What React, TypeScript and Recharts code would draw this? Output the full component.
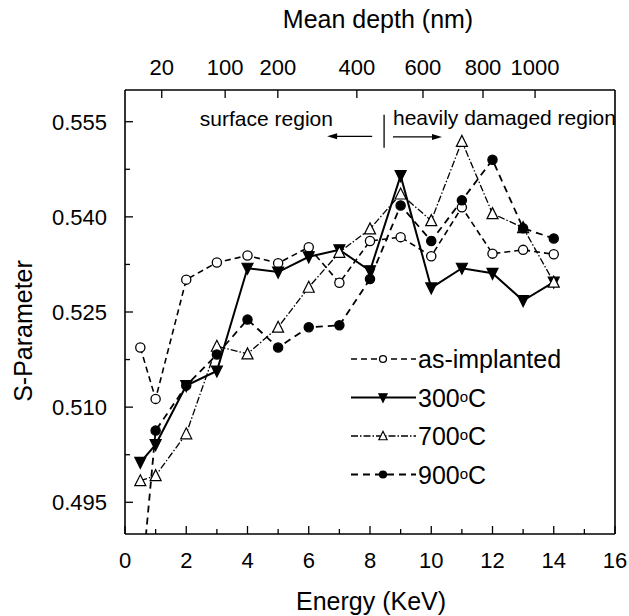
import React from "react";
import {
  LineChart,
  Line,
  XAxis,
  YAxis,
  ReferenceLine,
  ReferenceDot,
  Legend
} from "recharts";

const energy = [0.5, 1, 2, 3, 4, 5, 6, 7, 8, 9, 10, 11, 12, 13, 14];
const asImplanted = [0.5194, 0.5113, 0.5301, 0.5328, 0.5339, 0.5327, 0.5352, 0.5296, 0.5362, 0.5368, 0.5338, 0.5415, 0.5342, 0.5348, 0.5341];
const t300 = [0.5013, 0.5041, 0.5134, 0.5157, 0.5319, 0.5313, 0.5337, 0.5348, 0.5315, 0.5465, 0.5288, 0.5319, 0.5311, 0.5268, 0.5297];
const t700 = [0.4984, 0.4992, 0.5058, 0.5196, 0.5184, 0.5226, 0.5289, 0.5344, 0.5381, 0.5436, 0.5394, 0.5519, 0.5405, 0.5383, 0.5297];
const t900 = [0.4802, 0.5063, 0.5134, 0.5183, 0.5238, 0.5194, 0.5226, 0.5229, 0.5302, 0.5418, 0.5362, 0.5426, 0.549, 0.5382, 0.5366];

const energyTicks = [0, 1, 2, 3, 4, 5, 6, 7, 8, 9, 10, 11, 12, 13, 14, 15, 16];
const sMajor = [0.495, 0.51, 0.525, 0.54, 0.555];
const sMinor = [0.5025, 0.5175, 0.5325, 0.5475];
// top axis: energy at which each mean depth sits
const depthTickEnergy = [1.2, 3.27, 4.99, 7.57, 9.73, 11.69, 13.39];
const depthLabels = ["20", "100", "200", "400", "600", "800", "1000"];

const FONT = "'Liberation Sans', Arial, Helvetica, sans-serif";

const data = energy.map((e, i) => ({
  energy: e,
  asImplanted: asImplanted[i],
  t300: t300[i],
  t700: t700[i],
  t900: t900[i]
}));

type Marker = "openCircle" | "downTri" | "upTri" | "dot";

function markerShape(kind: Marker, cx: number, cy: number, s = 1, key?: string) {
  if (kind === "openCircle" || kind === "dot") {
    return (
      <circle
        key={key}
        cx={cx}
        cy={cy}
        r={4.6 * s}
        fill={kind === "dot" ? "#000" : "#fff"}
        stroke="#000"
        strokeWidth={1.3}
      />
    );
  }
  const w = 5.5 * s;
  const h = 5 * s;
  const pts =
    kind === "downTri"
      ? `${cx - w},${cy - h} ${cx + w},${cy - h} ${cx},${cy + h + 1}`
      : `${cx - w},${cy + h} ${cx + w},${cy + h} ${cx},${cy - h - 1}`;
  return (
    <polygon
      key={key}
      points={pts}
      fill={kind === "downTri" ? "#000" : "#fff"}
      stroke="#000"
      strokeWidth={1.2}
    />
  );
}

const series = [
  { key: "asImplanted", name: "as-implanted", dash: "6 4", width: 1.6, marker: "openCircle" as Marker },
  { key: "t300", name: "300", dash: undefined, width: 2, marker: "downTri" as Marker },
  { key: "t700", name: "700", dash: "7 2 1.5 2", width: 1.3, marker: "upTri" as Marker },
  { key: "t900", name: "900", dash: "7 5", width: 1.8, marker: "dot" as Marker }
];

const BottomTick = (props: any) => {
  const { x, y, payload } = props;
  const v = payload.value;
  const major = v % 2 === 0;
  return (
    <g>
      <line x1={x} y1={y} x2={x} y2={y - (major ? 8 : 5)} stroke="#000" strokeWidth={1.3} />
      {major && (
        <text x={x} y={y + 34} textAnchor="middle" fontSize={22} fontFamily={FONT} fill="#000">
          {v}
        </text>
      )}
    </g>
  );
};

const TopTick = (props: any) => {
  const { x, y, index } = props;
  return (
    <g>
      <line x1={x} y1={y} x2={x} y2={y + 8} stroke="#000" strokeWidth={1.3} />
      <text x={x} y={y - 15} textAnchor="middle" fontSize={22} fontFamily={FONT} fill="#000">
        {depthLabels[index]}
      </text>
    </g>
  );
};

const LeftTick = (props: any) => {
  const { x, y, payload } = props;
  const v = payload.value;
  const major = sMajor.includes(v);
  return (
    <g>
      <line x1={x} y1={y} x2={x + (major ? 8 : 5)} y2={y} stroke="#000" strokeWidth={1.3} />
      {major && (
        <text x={x - 18} y={y} dy="0.36em" textAnchor="end" fontSize={22} fontFamily={FONT} fill="#000">
          {v.toFixed(3)}
        </text>
      )}
    </g>
  );
};

const Arrow = (props: any) => {
  const { x1, y1, x2, y2 } = props;
  const dir = x2 > x1 ? 1 : -1;
  return (
    <g>
      <line x1={x1} y1={y1} x2={x2 - dir * 6} y2={y2} stroke="#000" strokeWidth={1.2} />
      <polygon points={`${x2},${y2} ${x2 - dir * 10},${y2 - 3} ${x2 - dir * 10},${y2 + 3}`} fill="#000" />
    </g>
  );
};

const LegendBox = () => (
  <svg width={280} height={165} style={{ display: "block" }}>
    {series.map((s, i) => {
      const cy = 19 + i * 38.5;
      return (
        <g key={s.key}>
          <line x1={6} y1={cy} x2={71} y2={cy} stroke="#000" strokeWidth={s.width} strokeDasharray={s.dash} />
          {markerShape(s.marker, 38, cy, 0.75)}
          <text x={73} y={cy} dy={9} fontSize={25} fontFamily={FONT} fill="#000">
            {s.key === "asImplanted" ? (
              s.name
            ) : (
              <>
                {s.name}
                <tspan fontSize={15} dy={-5}>o</tspan>
                <tspan dy={5}>C</tspan>
              </>
            )}
          </text>
        </g>
      );
    })}
  </svg>
);

export default function App() {
  return (
    <div style={{ position: "absolute", left: 0, top: 0, background: "#fff" }}>
      <LineChart
        width={629}
        height={616}
        data={data}
        margin={{ top: 89, right: 13, bottom: 81, left: 124 }}
      >
        <XAxis
          xAxisId="bottom"
          dataKey="energy"
          type="number"
          domain={[0, 16]}
          ticks={energyTicks}
          interval={0}
          height={1}
          tickSize={0}
          tickMargin={0}
          tickLine={false}
          tick={<BottomTick />}
          axisLine={{ stroke: "#000", strokeWidth: 1.6 }}
        />
        <XAxis
          xAxisId="top"
          orientation="top"
          dataKey="energy"
          type="number"
          domain={[0, 16]}
          allowDataOverflow
          ticks={depthTickEnergy}
          interval={0}
          height={1}
          tickSize={0}
          tickMargin={0}
          tickLine={false}
          tick={<TopTick />}
          axisLine={{ stroke: "#000", strokeWidth: 1.6 }}
        />
        <YAxis
          yAxisId="left"
          type="number"
          domain={[0.49, 0.56]}
          allowDataOverflow
          ticks={[...sMajor, ...sMinor]}
          interval={0}
          width={1}
          tickSize={0}
          tickMargin={0}
          tickLine={false}
          tick={<LeftTick />}
          axisLine={{ stroke: "#000", strokeWidth: 1.6 }}
        />
        <YAxis
          yAxisId="right"
          orientation="right"
          type="number"
          domain={[0.49, 0.56]}
          allowDataOverflow
          width={1}
          tick={false}
          tickLine={false}
          axisLine={{ stroke: "#000", strokeWidth: 1.6 }}
        />

        <ReferenceLine
          xAxisId="bottom"
          yAxisId="left"
          segment={[{ x: 8.46, y: 0.5561 }, { x: 8.46, y: 0.5509 }]}
          stroke="#000"
          strokeWidth={1.3}
        />
        <ReferenceLine
          xAxisId="bottom"
          yAxisId="left"
          segment={[{ x: 8.07, y: 0.5527 }, { x: 6.6, y: 0.5527 }]}
          shape={<Arrow />}
        />
        <ReferenceLine
          xAxisId="bottom"
          yAxisId="left"
          segment={[{ x: 8.75, y: 0.5526 }, { x: 10.35, y: 0.5526 }]}
          shape={<Arrow />}
        />
        <ReferenceDot
          xAxisId="bottom"
          yAxisId="left"
          x={6.79}
          y={0.5543}
          shape={(p: any) => (
            <text x={p.cx} y={p.cy} textAnchor="end" fontSize={21} fontFamily={FONT} fill="#000">
              surface region
            </text>
          )}
        />
        <ReferenceDot
          xAxisId="bottom"
          yAxisId="left"
          x={8.75}
          y={0.5545}
          shape={(p: any) => (
            <text x={p.cx} y={p.cy} textAnchor="start" fontSize={21} fontFamily={FONT} fill="#000">
              heavily damaged region
            </text>
          )}
        />

        {series.map((s) => (
          <Line
            key={s.key}
            xAxisId="bottom"
            yAxisId="left"
            dataKey={s.key}
            name={s.name}
            stroke="#000"
            strokeWidth={s.width}
            strokeDasharray={s.dash}
            isAnimationActive={false}
            dot={(p: any) => markerShape(s.marker, p.cx, p.cy, 1, `${s.key}-${p.index}`)}
            activeDot={false}
          />
        ))}

        <Legend
          layout="horizontal"
          verticalAlign="middle"
          align="center"
          wrapperStyle={{ left: 345, top: 340, width: 280, height: 165 }}
          content={() => <LegendBox />}
        />

        <text x={378} y={28} textAnchor="middle" fontSize={25} fontFamily={FONT} fill="#000">
          Mean depth (nm)
        </text>
        <text x={371} y={610} textAnchor="middle" fontSize={25} fontFamily={FONT} fill="#000">
          Energy (KeV)
        </text>
        <text
          x={32}
          y={331}
          textAnchor="middle"
          fontSize={25}
          fontFamily={FONT}
          fill="#000"
          transform="rotate(-90, 32, 331)"
        >
          S-Parameter
        </text>
      </LineChart>
    </div>
  );
}
